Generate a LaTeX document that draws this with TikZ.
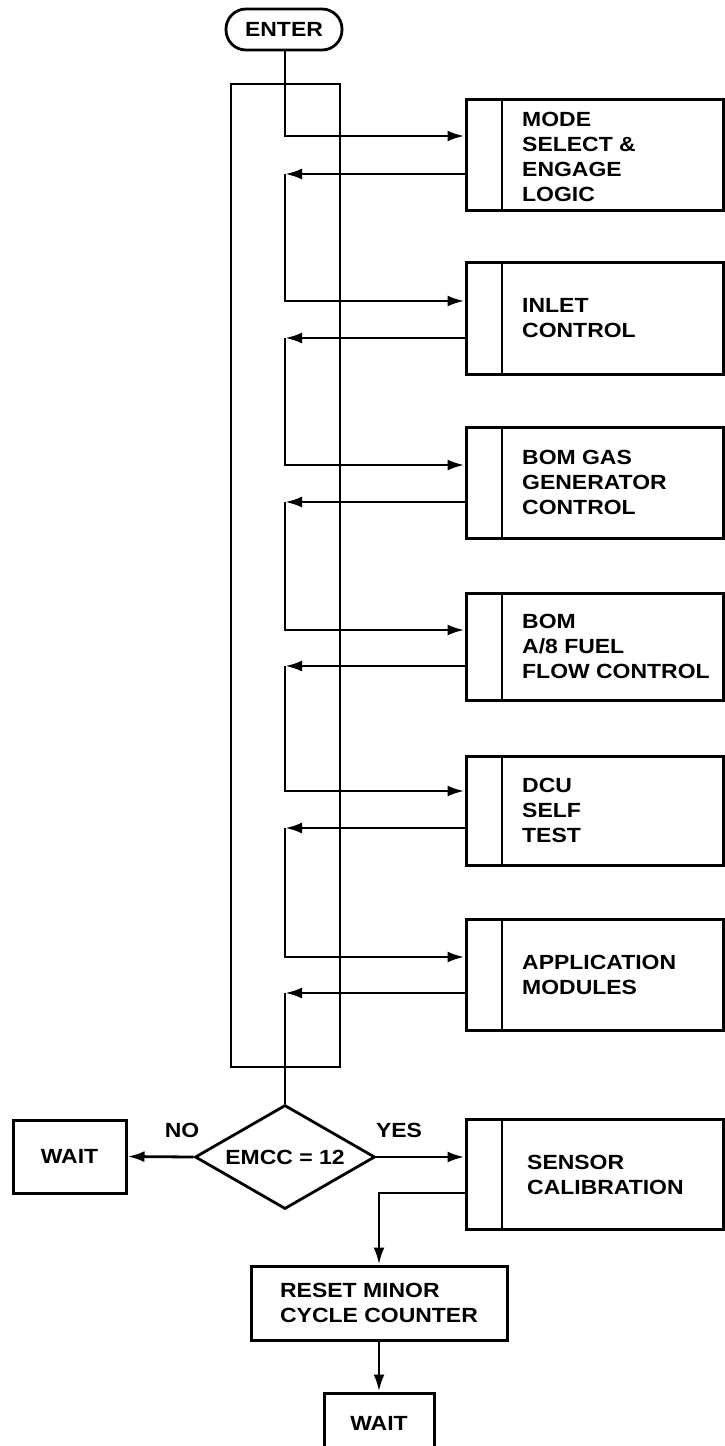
\documentclass[tikz,border=0pt]{standalone}
\usepackage{fontspec}
\setmainfont{Liberation Sans}[FakeStretch=1.12]
\usetikzlibrary{arrows.meta,shapes.geometric}
\begin{document}
\begin{tikzpicture}[x=1pt,y=-1pt,
  font=\fontsize{20.5}{25}\selectfont\bfseries,
  modbox/.style={draw, line width=3pt, minimum width=257pt, inner sep=0pt,
    path picture={\draw[line width=2.8pt] ([xshift=36pt]path picture bounding box.north west) -- ([xshift=36pt]path picture bounding box.south west);}},
  txt/.style={anchor=west, align=left, inner sep=0pt},
  plainbox/.style={draw, line width=3pt, inner sep=0pt, align=left},
  conn/.style={line width=2.8pt},
  arr/.style={line width=2.8pt, -{Latex[length=17pt,width=11pt]}},
  lab/.style={inner sep=0pt}]
\useasboundingbox (0,0) rectangle (725,1446);
\clip (0,0) rectangle (725,1446);
\fill[white] (0,0) rectangle (725,1446);

% start
\node[draw, line width=2.8pt, rounded corners=20pt, minimum width=116pt, minimum height=41pt, inner sep=0pt] (enter) at (284,29.5) {ENTER};

% loop bracket
\node[draw, line width=2.8pt, minimum width=109pt, minimum height=983pt, inner sep=0pt] (loop) at (285.5,575.5) {};

% modules
\node[modbox, minimum height=111pt] (mode) at (594.5,154.5) {};
\node[txt] (modet) at (522,157) {MODE\\SELECT \&\\ENGAGE\\LOGIC};
\node[modbox, minimum height=112pt] (inlet) at (594.5,318) {};
\node[txt] (inlett) at (522,318) {INLET\\CONTROL};
\node[modbox, minimum height=111pt] (gas) at (594.5,482.5) {};
\node[txt] (gast) at (522,482.5) {BOM GAS\\GENERATOR\\CONTROL};
\node[modbox, minimum height=107pt] (fuel) at (594.5,646.5) {};
\node[txt] (fuelt) at (522,646.5) {BOM\\A/8 FUEL\\FLOW CONTROL};
\node[modbox, minimum height=109pt] (dcu) at (594.5,810.5) {};
\node[txt] (dcut) at (522,810.5) {DCU\\SELF\\TEST};
\node[modbox, minimum height=111pt] (app) at (594.5,974.5) {};
\node[txt] (appt) at (522,975) {APPLICATION\\MODULES};
\node[modbox, minimum height=110pt] (sensor) at (594.5,1174) {};
\node[txt] (sensort) at (527,1175) {SENSOR\\CALIBRATION};

% decision
\node[draw, diamond, aspect=1.73, line width=2.8pt, minimum width=180pt, minimum height=104pt, inner sep=0pt] (dec) at (285,1157) {EMCC = 12};
\node[plainbox, minimum width=113pt, minimum height=73pt] (wait1) at (69.5,1156.5) {WAIT};
\node[lab] (no) at (182,1130) {NO};
\node[lab] (yes) at (399,1130) {YES};

\node[plainbox, minimum width=256pt, minimum height=74pt] (reset) at (379,1303) {RESET MINOR\\CYCLE COUNTER};
\node[plainbox, minimum width=110pt, minimum height=60pt] (wait2) at (379,1423) {WAIT};

% level coordinates
\coordinate (f1) at (285,136);  \coordinate (r1) at (285,174);
\coordinate (f2) at (285,301);  \coordinate (r2) at (285,338);
\coordinate (f3) at (285,465);  \coordinate (r3) at (285,502);
\coordinate (f4) at (285,630);  \coordinate (r4) at (285,666);
\coordinate (f5) at (285,791);  \coordinate (r5) at (285,828);
\coordinate (f6) at (285,957);  \coordinate (r6) at (285,993);
\coordinate (r7) at (0,1193);

% connectors
\draw[arr] (enter.south -| f1) -- (f1) -- (mode.west |- f1);
\draw[arr] (mode.west |- r1) -- (r1);
\draw[arr] (r1) -- (f2) -- (inlet.west |- f2);
\draw[arr] (inlet.west |- r2) -- (r2);
\draw[arr] (r2) -- (f3) -- (gas.west |- f3);
\draw[arr] (gas.west |- r3) -- (r3);
\draw[arr] (r3) -- (f4) -- (fuel.west |- f4);
\draw[arr] (fuel.west |- r4) -- (r4);
\draw[arr] (r4) -- (f5) -- (dcu.west |- f5);
\draw[arr] (dcu.west |- r5) -- (r5);
\draw[arr] (r5) -- (f6) -- (app.west |- f6);
\draw[arr] (app.west |- r6) -- (r6);
\draw[conn] (r6) -- (dec.north);
\draw[arr] (dec.west) -- (wait1.east);
\draw[arr] (dec.east) -- (sensor.west |- dec.east);
\draw[arr] (sensor.west |- r7) -| (reset.north);
\draw[arr] (reset.south) -- (wait2.north);
\end{tikzpicture}
\end{document}
